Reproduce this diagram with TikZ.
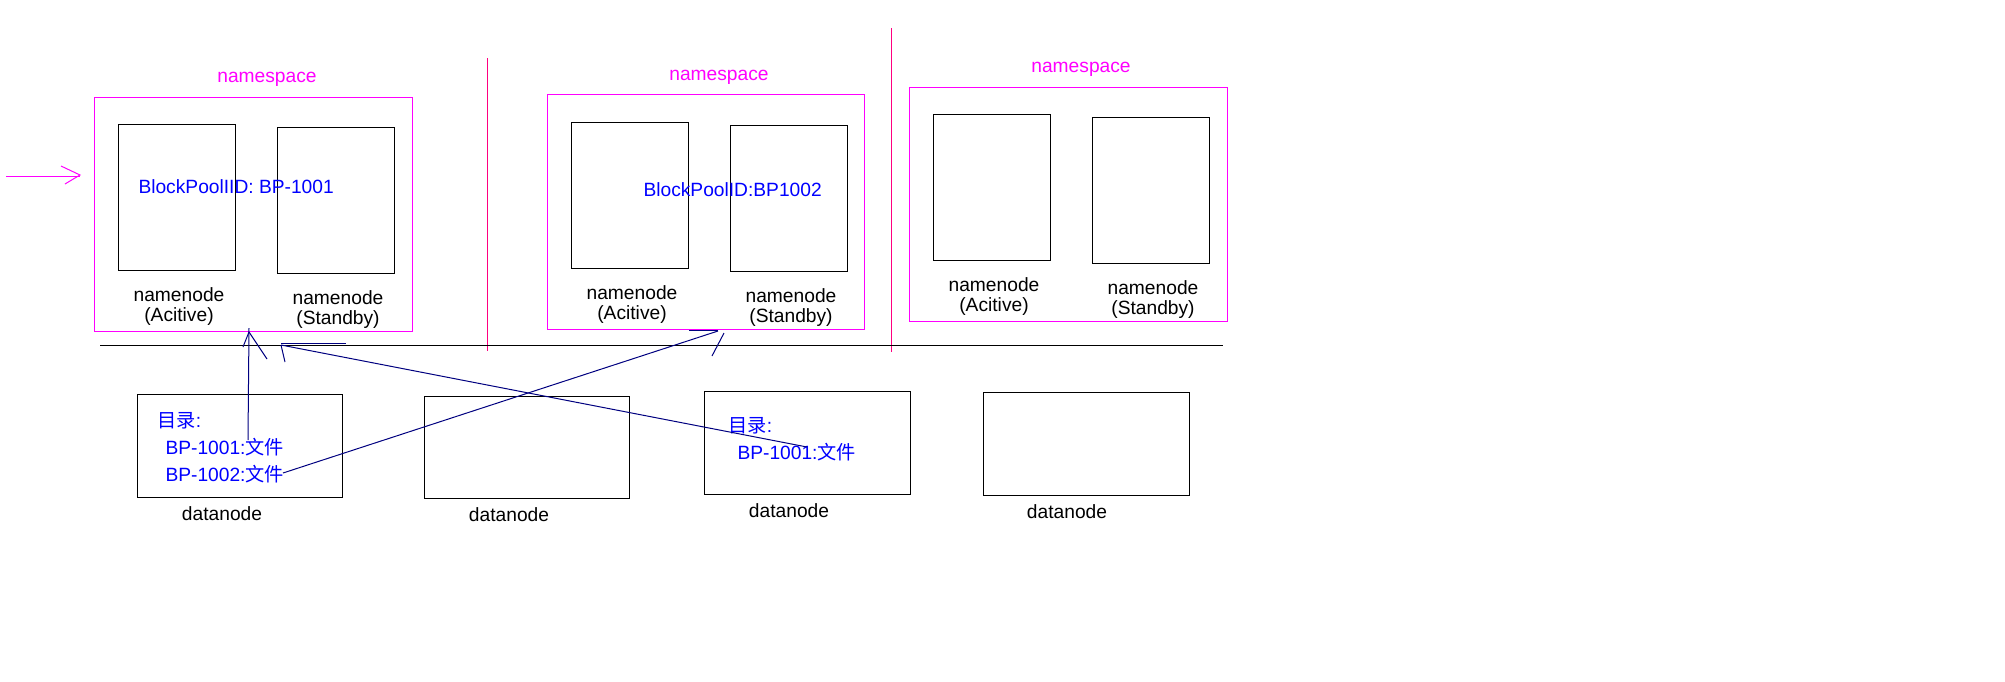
\documentclass[tikz,border=0pt]{standalone}
\usepackage{fontspec}
\setmainfont{Liberation Sans}
\newfontfamily\cjk{Noto Sans CJK SC}
\usetikzlibrary{fit}
\definecolor{mag}{RGB}{255,0,255}
\definecolor{pinkline}{RGB}{255,0,128}
\definecolor{navyline}{RGB}{0,0,128}
\definecolor{bluetxt}{RGB}{0,0,255}
\begin{document}
\begin{tikzpicture}[x=1pt,y=-1pt,line width=1pt,
  nsbox/.style={draw=mag,inner sep=0pt},
  nnbox/.style={draw=black,inner sep=0pt},
  lbl/.style={font=\fontsize{19.2}{20}\selectfont,align=center,inner sep=0pt,text=black},
  nslbl/.style={font=\fontsize{19.2}{20}\selectfont,inner sep=0pt,text=mag},
  bptxt/.style={font=\fontsize{19.2}{20}\selectfont,inner sep=0pt,text=bluetxt,anchor=west},
  conn/.style={draw=navyline,line width=1pt},
  sep/.style={draw=pinkline,line width=1pt}
]
\useasboundingbox[fill=white] (0,0) rectangle (2005,681);

% separators and base line
\coordinate (s1a) at (487,58);  \coordinate (s1b) at (487,351);
\coordinate (s2a) at (891,28);  \coordinate (s2b) at (891,352);
\draw[sep] (s1a) -- (s1b);
\draw[sep] (s2a) -- (s2b);
\coordinate (hl) at (100,345); \coordinate (hr) at (1223,345);
\draw[black] (hl) -- (hr);

% left arrow
\coordinate (la) at (6,176); \coordinate (lb) at (80,176);
\draw[mag] (la) -- (lb);
\draw[mag] (61,166) -- (80,175) -- (65,184);

% namespaces
\node[nsbox,fit={(94,97) (412,331)}] (ns1) {};
\node[nsbox,fit={(547,94) (864,329)}] (ns2) {};
\node[nsbox,fit={(909,87) (1227,321)}] (ns3) {};
\node[nslbl] (ns1l) at (267,79) {namespace};
\node[nslbl] (ns2l) at (719,77) {namespace};
\node[nslbl] (ns3l) at (1081,69) {namespace};

% namenode boxes
\node[nnbox,fit={(118,124) (235,270)}] (nn1a) {};
\node[nnbox,fit={(277,127) (394,273)}] (nn1s) {};
\node[nnbox,fit={(571,122) (688,268)}] (nn2a) {};
\node[nnbox,fit={(730,125) (847,271)}] (nn2s) {};
\node[nnbox,fit={(933,114) (1050,260)}] (nn3a) {};
\node[nnbox,fit={(1092,117) (1209,263)}] (nn3s) {};

\node[lbl] (l1a) at (179,307) {namenode\\(Acitive)};
\node[lbl] (l1s) at (338,310) {namenode\\(Standby)};
\node[lbl] (l2a) at (632,305) {namenode\\(Acitive)};
\node[lbl] (l2s) at (791,308) {namenode\\(Standby)};
\node[lbl] (l3a) at (994,297) {namenode\\(Acitive)};
\node[lbl] (l3s) at (1153,300) {namenode\\(Standby)};

\node[bptxt] (bp1) at (138,187) {BlockPoolIID: BP-1001};
\node[bptxt] (bp2) at (643,190) {BlockPoolID:BP1002};

% datanodes
\node[nnbox,fit={(137,394) (342,497)}] (dn1) {};
\node[nnbox,fit={(424,396) (629,498)}] (dn2) {};
\node[nnbox,fit={(704,391) (910,494)}] (dn3) {};
\node[nnbox,fit={(983,392) (1189,495)}] (dn4) {};
\node[lbl] (d1l) at (222,514) {datanode};
\node[lbl] (d2l) at (509,515) {datanode};
\node[lbl] (d3l) at (789,511) {datanode};
\node[lbl] (d4l) at (1067,512) {datanode};

\node[bptxt] (dir1) at (157,421) {{\cjk 目录}:};
\node[bptxt] (f11) at (165,447) {BP-1001:{\cjk 文件}};
\node[bptxt] (f12) at (165,474) {BP-1002:{\cjk 文件}};
\node[bptxt] (dir3) at (728,426) {{\cjk 目录}:};
\node[bptxt] (f31) at (737,452) {BP-1001:{\cjk 文件}};

% connectors
\coordinate (a1s) at (248,440); \coordinate (t1) at (249,328);
\draw[conn] (a1s) -- (t1);
\draw[conn] (249,332) -- (243,347);
\draw[conn] (249,332) -- (267,359);

\coordinate (a2s) at (807,447); \coordinate (t2) at (281,345);
\draw[conn] (a2s) -- (t2);
\draw[conn] (281,343) -- (346,343);
\draw[conn] (281,345) -- (285,362);

\coordinate (a3s) at (283,473); \coordinate (t3) at (718,331);
\draw[conn] (a3s) -- (t3);
\draw[conn] (689,330) -- (718,330);
\draw[conn] (724,333) -- (712,356);
\end{tikzpicture}
\end{document}
